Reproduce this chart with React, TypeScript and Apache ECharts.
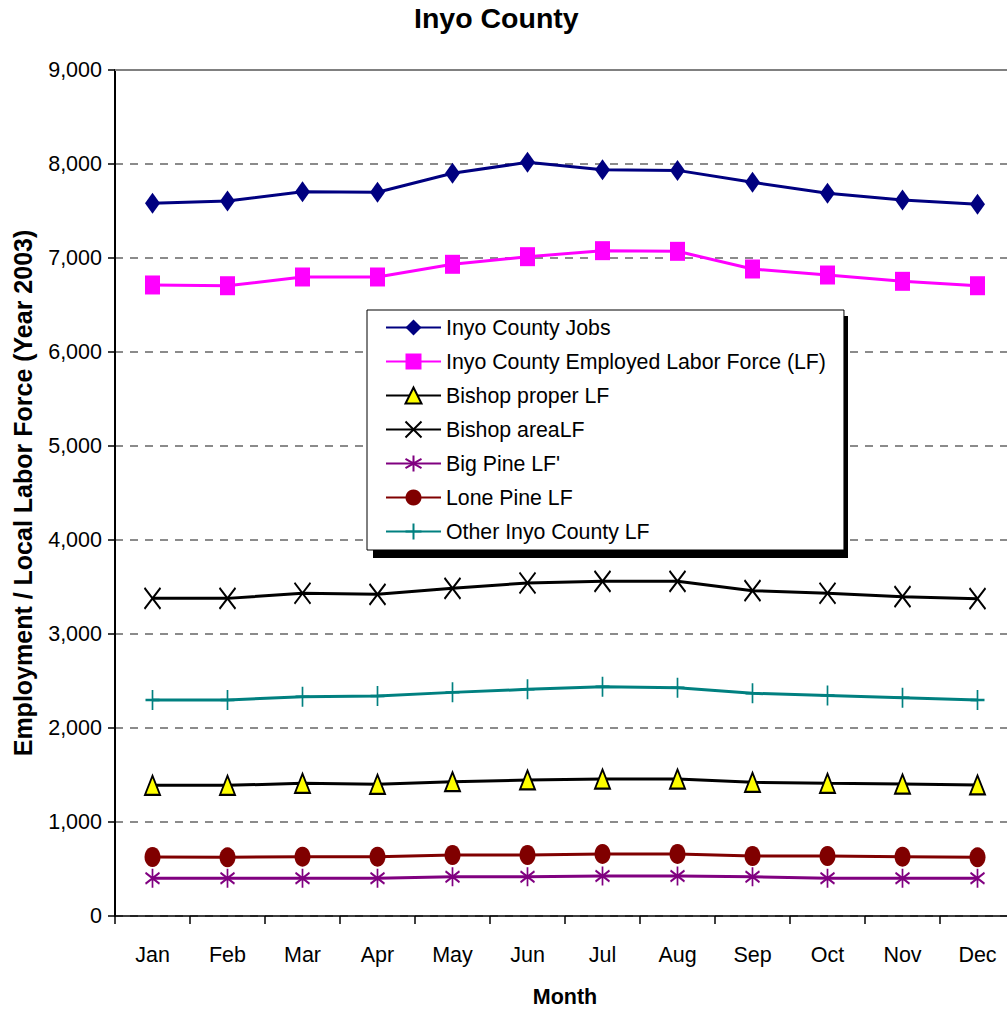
import React, { useEffect, useRef } from "react";
import * as echarts from "echarts";

const months = ["Jan", "Feb", "Mar", "Apr", "May", "Jun", "Jul", "Aug", "Sep", "Oct", "Nov", "Dec"];
const jobs = [7582, 7606, 7705, 7700, 7901, 8018, 7939, 7932, 7805, 7688, 7617, 7571];
const employedLF = [6713, 6705, 6798, 6798, 6933, 7014, 7078, 7071, 6883, 6819, 6752, 6705];
const bishopProper = [1390, 1390, 1411, 1401, 1429, 1447, 1457, 1457, 1422, 1411, 1404, 1394];
const bishopArea = [3379, 3379, 3433, 3422, 3486, 3543, 3560, 3560, 3461, 3433, 3397, 3376];
const bigPine = [401, 401, 401, 401, 418, 418, 426, 426, 418, 401, 401, 401];
const lonePine = [628, 624, 631, 631, 649, 649, 660, 660, 638, 638, 631, 624];
const otherInyo = [2298, 2298, 2333, 2340, 2379, 2411, 2440, 2429, 2369, 2347, 2323, 2298];
const yTicks = { min: 0, max: 9000, interval: 1000 };

const FONT = "'Liberation Sans', Arial, sans-serif";

export default function App() {
  const ref = useRef<HTMLDivElement>(null);
  useEffect(() => {
    document.body.style.margin = "0";
    const chart = echarts.init(ref.current!, undefined, { renderer: "svg" });
    const lineBase = (name: string, data: number[], color: string, symbol: string, size: number[], extra: any = {}) => ({
      name,
      type: "line",
      data,
      symbol,
      symbolSize: size,
      lineStyle: { color, width: 3 },
      itemStyle: { color, borderColor: color, borderWidth: 0 },
      ...extra,
    });
    chart.setOption({
      animation: false,
      backgroundColor: "#fff",
      textStyle: { fontFamily: FONT },
      title: {
        text: "Inyo County",
        left: 414,
        top: 3,
        padding: 0,
        textStyle: { fontFamily: FONT, fontSize: 28.5, fontWeight: "bold", color: "#000" },
      },
      graphic: [
        {
          type: "rect",
          left: 373,
          top: 316,
          z: 3,
          shape: { width: 475, height: 242 },
          style: { fill: "#000" },
          silent: true,
        },
      ],
      legend: {
        orient: "vertical",
        left: 367,
        top: 310,
        padding: [7, 18, 8, 18],
        itemGap: 13,
        itemWidth: 55,
        itemHeight: 20,
        backgroundColor: "#fff",
        borderColor: "#000",
        borderWidth: 1,
        z: 5,
        textStyle: { fontFamily: FONT, fontSize: 21.3, color: "#000", lineHeight: 21 },
      },
      grid: { left: 115, top: 70, width: 900, height: 846, outerBoundsMode: "none", containLabel: false },
      xAxis: {
        type: "category",
        data: months,
        boundaryGap: true,
        name: "Month",
        nameLocation: "middle",
        nameGap: 71,
        nameTextStyle: { fontFamily: FONT, fontSize: 21.5, fontWeight: "bold", color: "#000", lineHeight: 20 },
        axisLine: { lineStyle: { color: "#000", width: 1.5 } },
        axisTick: { show: true, length: 8, inside: false, alignWithLabel: false, lineStyle: { color: "#000", width: 1.5 } },
        axisLabel: { fontFamily: FONT, fontSize: 21.5, color: "#000", margin: 28 },
        splitLine: { show: false },
      },
      yAxis: {
        type: "value",
        min: yTicks.min,
        max: yTicks.max,
        interval: yTicks.interval,
        name: "Employment / Local Labor Force (Year 2003)",
        nameLocation: "middle",
        nameGap: 80,
        nameTextStyle: { fontFamily: FONT, fontSize: 25, fontWeight: "bold", color: "#000" },
        axisLine: { show: true, lineStyle: { color: "#000", width: 2 } },
        axisTick: { show: true, length: 7, inside: false, lineStyle: { color: "#000", width: 1.5 } },
        axisLabel: {
          fontFamily: FONT,
          fontSize: 21.5,
          color: "#000",
          margin: 13,
          formatter: (v: number) => v.toLocaleString("en-US"),
        },
        splitLine: { show: true, lineStyle: { color: "#666", width: 1.5, type: [8, 7] } },
      },
      series: [
        lineBase("Inyo County Jobs", jobs, "#000080", "diamond", [15, 21], {
          markLine: {
            silent: true,
            symbol: "none",
            label: { show: false },
            lineStyle: { color: "#808080", type: "solid", width: 2 },
            data: [{ yAxis: yTicks.max }],
          },
        }),
        lineBase("Inyo County Employed Labor Force (LF)", employedLF, "#FF00FF", "rect", [15, 19]),
        {
          name: "Bishop proper LF",
          type: "line",
          data: bishopProper,
          symbol: "triangle",
          symbolSize: [15, 19],
          lineStyle: { color: "#000", width: 3 },
          itemStyle: { color: "#FFFF00", borderColor: "#000", borderWidth: 2 },
        },
        lineBase("Bishop areaLF", bishopArea, "#000000", "path://M0,0L16,21M16,0L0,21", [16, 21], {
          itemStyle: { color: "#000", borderColor: "#000", borderWidth: 2 },
        }),
        lineBase("Big Pine LF'", bigPine, "#800080", "path://M7,0L7,19M0,4L14,15M14,4L0,15", [14, 19], {
          itemStyle: { color: "#800080", borderColor: "#800080", borderWidth: 2 },
        }),
        lineBase("Lone Pine LF", lonePine, "#800000", "circle", [16, 20]),
        lineBase("Other Inyo County LF", otherInyo, "#008080", "path://M7,0L7,20M0,10L14,10", [14, 20], {
          itemStyle: { color: "#008080", borderColor: "#008080", borderWidth: 2 },
        }),
      ],
    });
    return () => chart.dispose();
  }, []);
  return <div ref={ref} style={{ position: "absolute", left: 0, top: 0, width: 1007, height: 1009, overflow: "hidden" }} />;
}
